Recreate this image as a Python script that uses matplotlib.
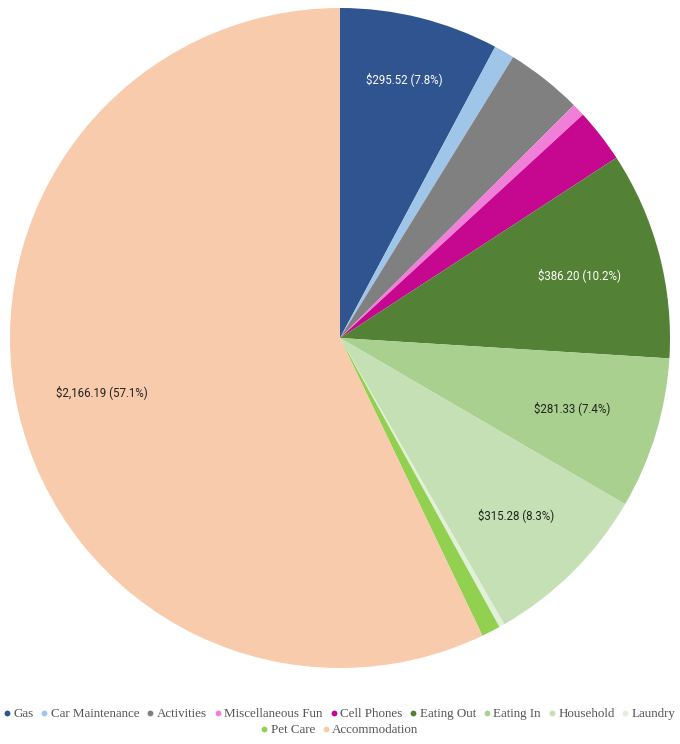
import matplotlib
matplotlib.use("Agg")
import matplotlib.pyplot as plt
from matplotlib.lines import Line2D
import numpy as np

categories = ["Gas", "Car Maintenance", "Activities", "Miscellaneous Fun", "Cell Phones",
              "Eating Out", "Eating In", "Household", "Laundry", "Pet Care", "Accommodation"]
values = [295.52, 38.0, 142.0, 24.0, 100.0, 386.20, 281.33, 315.28, 10.0, 35.0, 2166.19]
colors = ["#30548f", "#9fc5e8", "#808080", "#f07fd8", "#c6078f", "#538135",
          "#a9d08e", "#c5e0b4", "#e2efda", "#92d050", "#f8cbad"]
show_label = [True, False, False, False, False, True, True, True, False, False, True]
label_color = ["white", "k", "k", "k", "k", "white", "#222222", "#222222", "k", "k", "#222222"]
label_radius = [0.81, 0.75, 0.75, 0.75, 0.75, 0.75, 0.735, 0.757, 0.75, 0.75, 0.74]

W, H = 680, 744
fig = plt.figure(figsize=(W / 100, H / 100), dpi=100)
cx, cy, R = 340, 744 - 338, 330
ax = fig.add_axes([(cx - R) / W, (cy - R) / H, 2 * R / W, 2 * R / H])

wedges, _ = ax.pie(values, colors=colors, startangle=90, counterclock=False,
                   wedgeprops=dict(linewidth=0))
ax.set_xlim(-1, 1)
ax.set_ylim(-1, 1)
ax.set_aspect("equal")
ax.axis("off")

total = sum(values)
for w, v, show, lc, r in zip(wedges, values, show_label, label_color, label_radius):
    if not show:
        continue
    ang = np.deg2rad((w.theta1 + w.theta2) / 2)
    ax.text(r * np.cos(ang), r * np.sin(ang), f"${v:,.2f} ({v / total * 100:.1f}%)",
            ha="center", va="center", color=lc, fontsize=8.3, family="Roboto")

def handles(idx):
    return [Line2D([], [], marker="o", linestyle="none", markersize=4.2,
                   markerfacecolor=colors[i], markeredgewidth=0) for i in idx]

row1 = list(range(9))
row2 = [9, 10]
common = dict(frameon=False, handlelength=0.4, handletextpad=0.3, columnspacing=0.63,
              borderaxespad=0, borderpad=0,
              prop=dict(family="Liberation Serif", size=9.4), labelcolor="#555555")
leg1 = fig.legend(handles(row1), [categories[i] for i in row1], ncol=9,
                  loc="center", bbox_to_anchor=(0.5, 1 - 714 / H), **common)
leg2 = fig.legend(handles(row2), [categories[i] for i in row2], ncol=2,
                  loc="center", bbox_to_anchor=(0.5, 1 - 730 / H), **common)

fig.savefig("out.png", dpi=100)
